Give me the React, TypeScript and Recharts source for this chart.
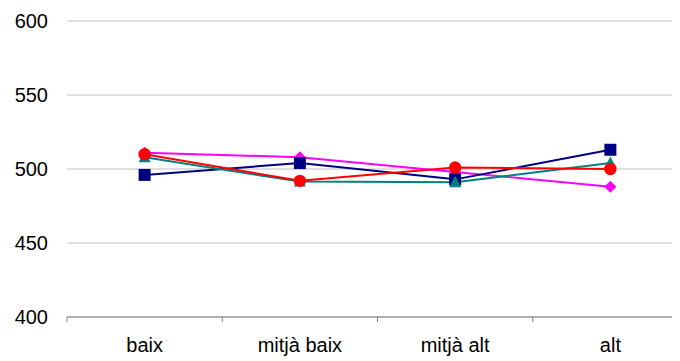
import React from 'react';
import { LineChart, Line, XAxis, YAxis, CartesianGrid } from 'recharts';

const categories = ['baix', 'mitjà baix', 'mitjà alt', 'alt'];
const navySeries = [496, 504, 493, 513];
const tealSeries = [508, 491.5, 491, 504];
const magentaSeries = [511, 508, 498, 488];
const redSeries = [510, 492, 501, 500];
const yTicks = [400, 450, 500, 550, 600];
const boundaryTicks = [0, 1, 2, 3, 4];
const labelTicks = [0.5, 1.5, 2.5, 3.5];

const data = categories.map((c, i) => ({
  cat: c,
  pos: i + 0.5,
  navy: navySeries[i],
  teal: tealSeries[i],
  magenta: magentaSeries[i],
  red: redSeries[i],
}));

const FONT = '"Liberation Sans", Arial, sans-serif';

const makeDot = (shape: string, color: string) => (props: any) => {
  const { cx, cy, index } = props;
  if (cx == null || cy == null) return <g key={index} />;
  if (shape === 'square') {
    return <rect key={index} x={cx - 6} y={cy - 6} width={12} height={12} fill={color} />;
  }
  if (shape === 'triangle') {
    return <polygon key={index} points={`${cx},${cy - 6.5} ${cx + 6},${cy + 5} ${cx - 6},${cy + 5}`} fill={color} />;
  }
  if (shape === 'diamond') {
    return <polygon key={index} points={`${cx},${cy - 6} ${cx + 6},${cy} ${cx},${cy + 6} ${cx - 6},${cy}`} fill={color} />;
  }
  return <circle key={index} cx={cx} cy={cy} r={6.2} fill={color} />;
};

export default function App() {
  return (
    <div style={{ width: 672, height: 353, overflow: 'hidden' }}>
      <LineChart width={700} height={353} data={data} margin={{ top: 13, right: 20, left: 0, bottom: 0 }}>
        <CartesianGrid vertical={false} stroke="#c0c0c0" strokeWidth={1} xAxisId="a0" />
        <XAxis
          xAxisId="a0"
          dataKey="pos"
          type="number"
          domain={[0, 4]}
          ticks={boundaryTicks}
          tickFormatter={() => ''}
          height={1}
          stroke="#808080"
          tickSize={5}
          interval={0}
        />
        <XAxis
          xAxisId="a1"
          dataKey="pos"
          type="number"
          domain={[0, 4]}
          ticks={labelTicks}
          tickFormatter={(v: number) => categories[Math.floor(v)]}
          height={43}
          axisLine={false}
          tickLine={false}
          tickSize={0}
          tickMargin={20}
          interval={0}
          tick={{ fill: '#000', fontSize: 20, fontFamily: FONT }}
        />
        <YAxis
          domain={[400, 600]}
          ticks={yTicks}
          width={59}
          axisLine={false}
          tickLine={false}
          tickSize={0}
          tickMargin={19}
          tick={{ fill: '#000', fontSize: 20, fontFamily: FONT }}
        />
        <Line xAxisId="a0" dataKey="magenta" stroke="#ff00ff" strokeWidth={2} dot={makeDot('diamond', '#ff00ff')} isAnimationActive={false} />
        <Line xAxisId="a0" dataKey="navy" stroke="#000080" strokeWidth={2} dot={makeDot('square', '#000080')} isAnimationActive={false} />
        <Line xAxisId="a0" dataKey="teal" stroke="#008080" strokeWidth={2} dot={makeDot('triangle', '#008080')} isAnimationActive={false} />
        <Line xAxisId="a0" dataKey="red" stroke="#ff0000" strokeWidth={2} dot={makeDot('circle', '#ff0000')} isAnimationActive={false} />
      </LineChart>
    </div>
  );
}
